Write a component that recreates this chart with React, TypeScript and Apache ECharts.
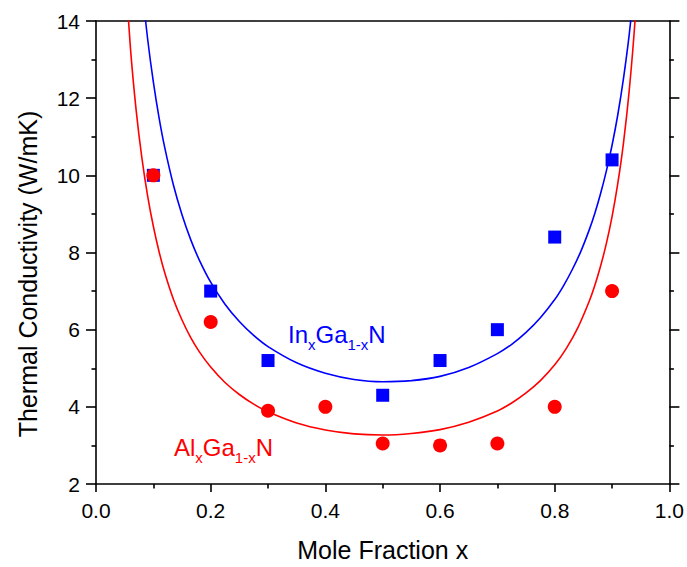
import React, { useEffect, useRef } from "react";
import * as echarts from "echarts";

// Measured points
const inX = [0.1, 0.2, 0.3, 0.5, 0.6, 0.7, 0.8, 0.9];
const inY = [10.0, 7.0, 5.2, 4.3, 5.2, 6.0, 8.4, 10.4];
const alX = [0.1, 0.2, 0.3, 0.4, 0.5, 0.6, 0.7, 0.8, 0.9];
const alY = [10.0, 6.2, 3.9, 4.0, 3.05, 3.0, 3.05, 4.0, 7.0];

// Fit curves
const inFitX = [0.07, 0.08, 0.09, 0.1, 0.11, 0.12, 0.135, 0.15, 0.165, 0.18, 0.2, 0.225, 0.25, 0.275, 0.3, 0.35, 0.4, 0.45, 0.5, 0.55, 0.6, 0.65, 0.7, 0.725, 0.75, 0.775, 0.8, 0.815, 0.83, 0.845, 0.86, 0.87, 0.88, 0.89, 0.9, 0.91, 0.92, 0.93, 0.94];
const inFitY = [16.64, 14.91, 13.54, 12.42, 11.49, 10.71, 9.75, 8.98, 8.34, 7.81, 7.23, 6.66, 6.21, 5.85, 5.56, 5.14, 4.87, 4.71, 4.65, 4.68, 4.79, 5.02, 5.38, 5.62, 5.93, 6.31, 6.78, 7.13, 7.54, 8.01, 8.58, 9.02, 9.53, 10.11, 10.78, 11.57, 12.52, 13.66, 15.07];
const alFitX = [0.05, 0.06, 0.07, 0.08, 0.09, 0.1, 0.11, 0.12, 0.135, 0.15, 0.165, 0.18, 0.2, 0.225, 0.25, 0.275, 0.3, 0.35, 0.4, 0.45, 0.5, 0.55, 0.6, 0.65, 0.7, 0.725, 0.75, 0.775, 0.8, 0.82, 0.84, 0.86, 0.87, 0.88, 0.89, 0.9, 0.91, 0.92, 0.93, 0.94, 0.95];
const alFitY = [15.51, 13.31, 11.69, 10.45, 9.47, 8.68, 8.02, 7.47, 6.79, 6.25, 5.8, 5.43, 5.03, 4.63, 4.32, 4.07, 3.87, 3.58, 3.4, 3.3, 3.27, 3.31, 3.41, 3.6, 3.89, 4.1, 4.36, 4.68, 5.09, 5.51, 6.04, 6.73, 7.15, 7.65, 8.23, 8.93, 9.79, 10.85, 12.21, 14.0, 16.47];

const xTickLabels = ["0.0", "0.2", "0.4", "0.6", "0.8", "1.0"];
const yTickLabels = ["2", "4", "6", "8", "10", "12", "14"];

const xTitle = "Mole Fraction x";
const yTitle = "Thermal Conductivity (W/mK)";

const FONT = '"Liberation Sans", Arial, sans-serif';
const BLUE = "#0000ff";
const RED = "#ff0000";

const zip = (xs: number[], ys: number[]) => xs.map((x, i) => [x, ys[i]]);

export default function App() {
  const ref = useRef<HTMLDivElement>(null);
  useEffect(() => {
    if (!ref.current) return;
    document.body.style.margin = "0";
    const chart = echarts.init(ref.current, null, { renderer: "svg", width: 687, height: 567 });
    const axisLine = { show: true, onZero: false, lineStyle: { color: "#000", width: 1.6 } };
    const option: any = {
      animation: false,
      backgroundColor: "#fff",
      textStyle: { fontFamily: FONT },
      grid: { left: 96, right: 16, top: 21, bottom: 77, containLabel: false },
      xAxis: [
        {
          type: "value",
          min: 0,
          max: 1,
          interval: 0.2,
          position: "bottom",
          axisLine,
          axisTick: { show: true, inside: false, length: 8, lineStyle: { color: "#000", width: 1.6 } },
          minorTick: { show: true, splitNumber: 2, length: 4.5, lineStyle: { color: "#000", width: 1.6 } },
          splitLine: { show: false },
          axisLabel: {
            fontSize: 21,
            color: "#000",
            margin: 16,
            fontFamily: FONT,
            formatter: (v: number) => xTickLabels[Math.round(v / 0.2)] ?? "",
          },
          name: xTitle,
          nameLocation: "middle",
          nameGap: 53,
          nameTextStyle: { fontSize: 25, color: "#000", fontFamily: FONT },
        },
        {
          type: "value",
          min: 0,
          max: 1,
          position: "top",
          axisLine,
          axisTick: { show: false },
          axisLabel: { show: false },
          splitLine: { show: false },
        },
      ],
      yAxis: [
        {
          type: "value",
          min: 2,
          max: 14,
          interval: 2,
          position: "left",
          axisLine,
          axisTick: { show: true, inside: false, length: 10, lineStyle: { color: "#000", width: 1.6 } },
          minorTick: { show: true, splitNumber: 2, length: 4.5, lineStyle: { color: "#000", width: 1.6 } },
          splitLine: { show: false },
          axisLabel: {
            fontSize: 21,
            color: "#000",
            margin: 16,
            fontFamily: FONT,
            formatter: (v: number) => yTickLabels[Math.round((v - 2) / 2)] ?? "",
          },
        },
        {
          type: "value",
          min: 2,
          max: 14,
          interval: 2,
          position: "right",
          axisLine,
          axisTick: { show: true, inside: false, length: 10, lineStyle: { color: "#000", width: 1.6 } },
          minorTick: { show: true, splitNumber: 2, length: 4.5, lineStyle: { color: "#000", width: 1.6 } },
          splitLine: { show: false },
          axisLabel: { show: false },
        },
      ],
      series: [
        {
          type: "line",
          data: zip(inFitX, inFitY),
          smooth: 0.25,
          symbol: "none",
          clip: true,
          lineStyle: { color: BLUE, width: 1.6 },
          z: 2,
        },
        {
          type: "line",
          data: zip(alFitX, alFitY),
          smooth: 0.25,
          symbol: "none",
          clip: true,
          lineStyle: { color: RED, width: 1.6 },
          z: 2,
        },
        {
          type: "scatter",
          data: zip(inX, inY),
          symbol: "rect",
          symbolSize: 13,
          itemStyle: { color: BLUE, opacity: 1 },
          z: 3,
        },
        {
          type: "scatter",
          data: zip(alX, alY),
          symbol: "circle",
          symbolSize: 14,
          itemStyle: { color: RED, opacity: 1 },
          z: 4,
        },
      ],
      graphic: [
        {
          type: "text",
          x: 28,
          y: 274,
          rotation: Math.PI / 2,
          style: {
            text: yTitle,
            fill: "#000",
            font: `25px ${FONT}`,
            textAlign: "center",
            textVerticalAlign: "middle",
          },
        },
        {
          type: "text",
          x: 288,
          y: 322,
          style: {
            text: "{a|In}{s|x}{a|Ga}{s|1-x}{a|N}",
            fill: BLUE,
            textAlign: "left",
            textVerticalAlign: "top",
            rich: {
              a: { fontSize: 24, fontFamily: FONT, fill: BLUE, verticalAlign: "top" },
              s: { fontSize: 15, fontFamily: FONT, fill: BLUE, lineHeight: 30, verticalAlign: "bottom" },
            },
          },
        },
        {
          type: "text",
          x: 174,
          y: 435,
          style: {
            text: "{a|Al}{s|x}{a|Ga}{s|1-x}{a|N}",
            fill: RED,
            textAlign: "left",
            textVerticalAlign: "top",
            rich: {
              a: { fontSize: 24, fontFamily: FONT, fill: RED, verticalAlign: "top" },
              s: { fontSize: 15, fontFamily: FONT, fill: RED, lineHeight: 30, verticalAlign: "bottom" },
            },
          },
        },
      ],
    };
    chart.setOption(option);
    return () => chart.dispose();
  }, []);
  return (
    <div
      ref={ref}
      style={{ position: "fixed", left: 0, top: 0, width: 687, height: 567, background: "#fff" }}
    />
  );
}
